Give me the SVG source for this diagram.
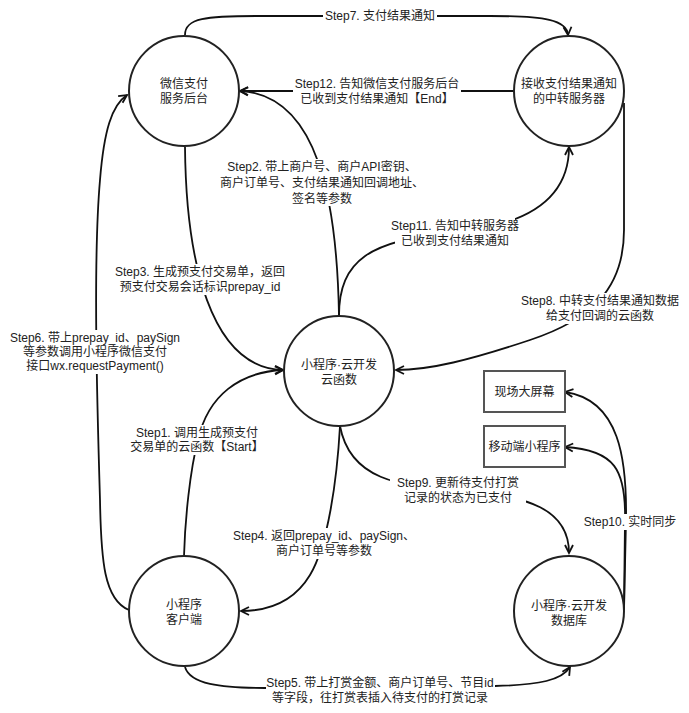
<svg xmlns="http://www.w3.org/2000/svg" width="689" height="713" viewBox="0 0 689 713">
<style>
  .node { fill: #ffffff; stroke: #222222; stroke-width: 2; }
  .box { fill: #ffffff; stroke: #555555; stroke-width: 2; }
  .edge { fill: none; stroke: #111111; stroke-width: 1.8; marker-end: url(#arrow); }
  .plain { fill: none; stroke: #111111; stroke-width: 1.8; }
  .t { font-family: "Liberation Sans", "Noto Sans CJK SC", sans-serif; font-size: 12px; fill: #222222; text-anchor: middle; }
  .bg { fill: #ffffff; stroke: none; }
</style>
<defs>
  <marker id="arrow" markerUnits="userSpaceOnUse" markerWidth="12" markerHeight="12" refX="9" refY="5" orient="auto" viewBox="0 0 12 10">
    <path d="M1,1 L9,5 L1,9" fill="none" stroke="#111111" stroke-width="1.8"/>
  </marker>
</defs>
<rect x="0" y="0" width="689" height="713" fill="#ffffff"/>

<g id="connectors">
  <path id="e7" class="edge" d="M185,35 C185,18 205,16 260,16 L490,16 C545,16 567,20 568,35"/>
  <path id="e12" class="edge" d="M514,91 L240,91"/>
  <path id="e2" class="edge" d="M339,316 C337,200 318,95 240,91"/>
  <path id="e3" class="edge" d="M185,147 C186,260 210,368 283,370"/>
  <path id="e6" class="edge" d="M129,610 C104,600 101,560 100,500 C97,400 93,260 100,180 C104,130 112,105 127,95"/>
  <path id="e1" class="edge" d="M184,556 C185,520 190,470 198,440 C208,395 240,372 283,370"/>
  <path id="e4" class="edge" d="M340,426 C337,480 328,545 310,575 C295,600 270,611 241,611"/>
  <path id="e5" class="edge" d="M185,667 C190,684 220,688 265,688 L495,686 C540,685 562,680 570,667"/>
  <path id="e8" class="edge" d="M624,103 L624,230 C624,290 590,320 530,340 C470,360 430,370 396,370"/>
  <path id="e9" class="edge" d="M340,426 C350,480 400,486 455,490 C530,495 569,510 569,553"/>
  <path id="e11" class="edge" d="M339,316 C339,260 370,240 455,232 C540,224 569,190 569,147"/>
  <path id="e10a" class="edge" d="M624,610 L626,520 C627,460 620,400 565,392"/>
  <path id="e10b" class="edge" d="M624,610 L625,520 C626,470 615,450 565,447"/>
</g>

<g id="edge-labels">
  <g id="l7">
    <rect class="bg" x="323" y="8" width="114" height="16"/>
    <text class="t" x="380" y="20">Step7. 支付结果通知</text>
  </g>
  <g id="l12">
    <rect class="bg" x="293" y="76" width="168" height="31"/>
    <text class="t" x="377" y="88">Step12. 告知微信支付服务后台</text>
    <text class="t" x="377" y="103">已收到支付结果通知【End】</text>
  </g>
  <g id="l2">
    <rect class="bg" x="218" y="159" width="208" height="47"/>
    <text class="t" x="322" y="171">Step2. 带上商户号、商户API密钥、</text>
    <text class="t" x="322" y="187">商户订单号、支付结果通知回调地址、</text>
    <text class="t" x="322" y="203">签名等参数</text>
  </g>
  <g id="l11">
    <rect class="bg" x="395" y="218" width="120" height="31"/>
    <text class="t" x="455" y="230">Step11. 告知中转服务器</text>
    <text class="t" x="455" y="245">已收到支付结果通知</text>
  </g>
  <g id="l3">
    <rect class="bg" x="114" y="264" width="172" height="31"/>
    <text class="t" x="200" y="276">Step3. 生成预支付交易单，返回</text>
    <text class="t" x="200" y="291">预支付交易会话标识prepay_id</text>
  </g>
  <g id="l6">
    <rect class="bg" x="9" y="330" width="172" height="44"/>
    <text class="t" x="95" y="342">Step6. 带上prepay_id、paySign</text>
    <text class="t" x="95" y="356">等参数调用小程序微信支付</text>
    <text class="t" x="95" y="370">接口wx.requestPayment()</text>
  </g>
  <g id="l1">
    <rect class="bg" x="129" y="425" width="136" height="30"/>
    <text class="t" x="197" y="437">Step1. 调用生成预支付</text>
    <text class="t" x="197" y="451">交易单的云函数【Start】</text>
  </g>
  <g id="l8">
    <rect class="bg" x="520" y="293" width="160" height="31"/>
    <text class="t" x="600" y="305">Step8. 中转支付结果通知数据</text>
    <text class="t" x="600" y="320">给支付回调的云函数</text>
  </g>
  <g id="l9">
    <rect class="bg" x="390" y="475" width="136" height="31"/>
    <text class="t" x="458" y="487">Step9. 更新待支付打赏</text>
    <text class="t" x="458" y="502">记录的状态为已支付</text>
  </g>
  <g id="l10">
    <rect class="bg" x="583" y="514" width="95" height="16"/>
    <text class="t" x="630" y="526">Step10. 实时同步</text>
  </g>
  <g id="l4">
    <rect class="bg" x="232" y="528" width="184" height="31"/>
    <text class="t" x="324" y="540">Step4. 返回prepay_id、paySign、</text>
    <text class="t" x="324" y="555">商户订单号等参数</text>
  </g>
  <g id="l5">
    <rect class="bg" x="266" y="675" width="229" height="31"/>
    <text class="t" x="380" y="687">Step5. 带上打赏金额、商户订单号、节目id</text>
    <text class="t" x="380" y="702">等字段，往打赏表插入待支付的打赏记录</text>
  </g>
</g>

<g id="node-wxpay">
  <circle class="node" cx="184" cy="91" r="55"/>
  <text class="t" x="184" y="88">微信支付</text>
  <text class="t" x="184" y="103">服务后台</text>
</g>
<g id="node-relay">
  <circle class="node" cx="569" cy="91" r="55"/>
  <text class="t" x="569" y="88">接收支付结果通知</text>
  <text class="t" x="569" y="103">的中转服务器</text>
</g>
<g id="node-cloudfn">
  <circle class="node" cx="339" cy="371" r="55"/>
  <text class="t" x="339" y="369">小程序·云开发</text>
  <text class="t" x="339" y="384">云函数</text>
</g>
<g id="node-client">
  <circle class="node" cx="184" cy="611" r="55"/>
  <text class="t" x="184" y="609">小程序</text>
  <text class="t" x="184" y="624">客户端</text>
</g>
<g id="node-db">
  <circle class="node" cx="569" cy="611" r="55"/>
  <text class="t" x="569" y="610">小程序·云开发</text>
  <text class="t" x="569" y="625">数据库</text>
</g>
<g id="node-screen">
  <rect class="box" x="484" y="371" width="81" height="41"/>
  <text class="t" x="524.5" y="396">现场大屏幕</text>
</g>
<g id="node-mobile">
  <rect class="box" x="484" y="426" width="81" height="41"/>
  <text class="t" x="524.5" y="451">移动端小程序</text>
</g>
</svg>
